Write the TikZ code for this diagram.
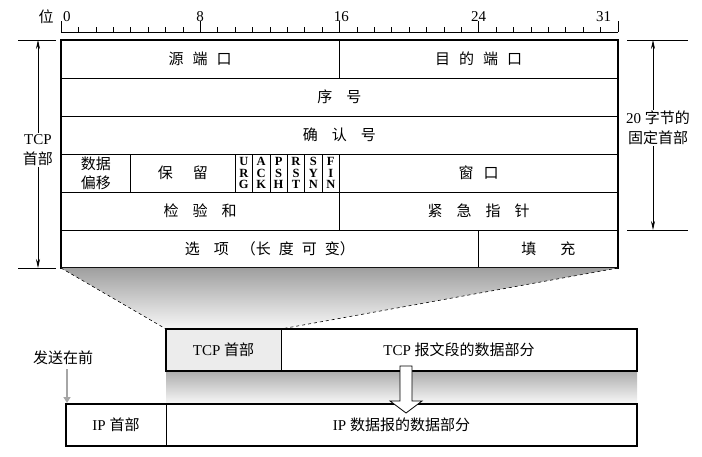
\documentclass[tikz,border=0pt]{standalone}
\usepackage{fontspec}
\setmainfont{Liberation Serif}
\newfontfamily\cjk{Noto Sans CJK SC}
\usetikzlibrary{arrows.meta,calc,positioning}

\newcommand{\bitw}{17.406}

\begin{document}
\begin{tikzpicture}[x=1pt,y=-1pt,
    field/.style={draw, line width=0.7pt, anchor=north west, outer sep=0pt, minimum height=38pt, inner sep=0pt, align=center, font=\cjk\fontsize{15}{19}\selectfont},
    flagcell/.style={field, minimum width=\bitw pt, font=\fontsize{12.5}{11.2}\selectfont\bfseries},
    cell/.style={draw, line width=0.7pt, outer sep=0pt, minimum height=42pt, inner sep=0pt, font=\fontsize{15}{19}\selectfont},
    lbl/.style={font=\fontsize{15}{20}\selectfont, align=center, inner sep=1pt},
    dimarrow/.style={line width=0.7pt, -{Stealth[length=9pt,width=4pt]}},
    sendarrow/.style={gray!70, line width=2.5pt, -{Triangle[length=6pt,width=7pt]}},
    frame/.style={draw, line width=1.8pt}]
    \useasboundingbox (0,0) rectangle (702,457);

    % bit ruler
    \draw[line width=0.7pt] (61,32) -- (618,32);
    \foreach \i in {0,...,32}
        \draw[line width=0.6pt] ({61+\i*\bitw},32) -- ++(0,-5);
    \foreach \i in {0,8,16,24,32}
        \draw[line width=0.6pt] ({61+\i*\bitw},32) -- ++(0,-11);
    \node[lbl, font=\cjk\fontsize{15}{20}\selectfont] (wei) at (46,17) {位};
    \node[lbl, anchor=base west] (b0) at (62,22) {0};
    \node[lbl, anchor=base] (b8) at ({61+8*\bitw},22) {8};
    \node[lbl, anchor=base] (b16) at ({61+16*\bitw+2},22) {16};
    \node[lbl, anchor=base] (b24) at ({61+24*\bitw},22) {24};
    \node[lbl, anchor=base] (b31) at ({61+31*\bitw+3},22) {31};

    % header fields
    \node[field, minimum width=16*\bitw pt] (src) at (61,40) {源\hspace{9pt}端\hspace{9pt}口};
    \node[field, minimum width=16*\bitw pt] (dst) at ({61+16*\bitw},40) {目\hspace{9pt}的\hspace{9pt}端\hspace{9pt}口};
    \node[field, minimum width=32*\bitw pt] (seq) at (61,78) {序\hspace{14pt}号};
    \node[field, minimum width=32*\bitw pt] (ack) at (61,116) {确\hspace{14pt}认\hspace{14pt}号};
    \node[field, minimum width=4*\bitw pt] (off) at (61,154) {数据\\偏移};
    \node[field, minimum width=6*\bitw pt] (rsv) at ({61+4*\bitw},154) {保\hspace{20pt}留};
    \foreach \a/\b/\c [count=\i from 0] in {U/R/G,A/C/K,P/S/H,R/S/T,S/Y/N,F/I/N}
        \node[flagcell] (flag\i) at ({61+(10+\i)*\bitw},154) {\a\\\b\\\c};
    \node[field, minimum width=16*\bitw pt] (win) at ({61+16*\bitw},154) {窗\hspace{10pt}口};
    \node[field, minimum width=16*\bitw pt] (chk) at (61,192) {检\hspace{14pt}验\hspace{14pt}和};
    \node[field, minimum width=16*\bitw pt] (urg) at ({61+16*\bitw},192) {紧\hspace{14pt}急\hspace{14pt}指\hspace{14pt}针};
    \node[field, minimum width=24*\bitw pt] (opt) at (61,230) {选\hspace{14pt}项\hspace{12pt}（长\hspace{8pt}度\hspace{8pt}可\hspace{8pt}变）};
    \node[field, minimum width=8*\bitw pt] (pad) at ({61+24*\bitw},230) {填\hspace{24pt}充};
    \draw[frame] (src.north west) rectangle (pad.south east);

    % TCP header size
    \draw[line width=0.6pt] (18,40) -- (56,40) (18,268) -- (56,268);
    \coordinate (ltop) at (38,40);
    \coordinate (lbot) at (38,268);
    \node[lbl] (tcphdr) at (38,150) {TCP\\{\cjk 首部}};
    \draw[dimarrow] (tcphdr.north) -- (ltop);
    \draw[dimarrow] (tcphdr.south) -- (lbot);

    % fixed part size
    \draw[line width=0.6pt] (627,40) -- (688,40) (627,230) -- (688,230);
    \coordinate (rtop) at (653,40);
    \coordinate (rbot) at (653,230);
    \node[lbl] (fixed) at (658,128) {20 {\cjk 字节的}\\{\cjk 固定首部}};
    \draw[dimarrow] (fixed.north -| rtop) -- (rtop);
    \draw[dimarrow] (fixed.south -| rbot) -- (rbot);

    % TCP segment
    \node[cell, fill=gray!15, minimum width=115pt, anchor=north west] (tcph) at (166,329) {TCP {\cjk 首部}};
    \node[cell, minimum width=356pt, right=0pt of tcph] (tcpd) {TCP {\cjk 报文段的数据部分}};
    \draw[frame] (tcph.north west) rectangle (tcpd.south east);

    % zoom wedge
    \coordinate (hl) at (src.north west |- pad.south);
    \shade[top color=gray!75, bottom color=gray!6] (hl) -- (pad.south east) -- (tcph.north east) -- (tcph.north west) -- cycle;
    \draw[dashed, line width=0.6pt] (hl) -- (tcph.north west) (pad.south east) -- (tcph.north east);

    % IP datagram
    \node[cell, minimum width=100pt, anchor=north west] (iph) at (66,404) {IP {\cjk 首部}};
    \node[cell, minimum width=471pt, right=0pt of iph] (ipd) {IP {\cjk 数据报的数据部分}};
    \shade[top color=gray!65, bottom color=gray!5] (tcph.south west) rectangle (ipd.north east);
    \draw[frame] (iph.north west) rectangle (ipd.south east);
    \draw[frame] (tcph.north west) rectangle (tcpd.south east);

    % hollow arrow
    \draw[line width=0.8pt, fill=white] (400,366) -- (412,366) -- (412,401) -- (422,401)
        -- (406,413) -- (390,401) -- (400,401) -- cycle;

    % sending order
    \node[lbl, font=\cjk\fontsize{15}{20}\selectfont] (first) at (63,358) {发送在前};
    \coordinate (firstend) at (67,403);
    \draw[sendarrow, shorten <=3pt] (first.south -| firstend) -- (firstend);
\end{tikzpicture}
\end{document}
